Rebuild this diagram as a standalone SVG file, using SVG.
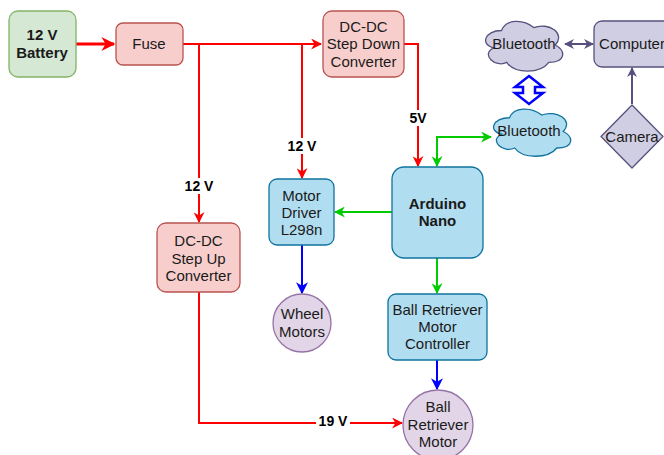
<svg xmlns="http://www.w3.org/2000/svg" width="664" height="455" viewBox="0 0 664 455">
<style>
text{font-family:"Liberation Sans",Arial,sans-serif;font-size:15px;fill:#1a1a1a;text-anchor:middle}
.b{font-weight:bold}
.lbl{font-weight:bold;font-size:14px;fill:#000}
.red{fill:#f8cecc;stroke:#b85450;stroke-width:1.3}
.grn{fill:#d5e8d4;stroke:#82b366;stroke-width:1.3}
.blu{fill:#b1ddf0;stroke:#10739e;stroke-width:1.3}
.pur{fill:#e1d5e7;stroke:#9673a6;stroke-width:1.3}
.gry{fill:#d0cee2;stroke:#56517e;stroke-width:1.3}
.cr{fill:none;stroke:#ff0000;stroke-width:2}
.cg{fill:none;stroke:#00cc00;stroke-width:2}
.cb{fill:none;stroke:#0000ff;stroke-width:2}
.cp{fill:none;stroke:#56517e;stroke-width:2}
</style>
<defs>
<marker id="ar" viewBox="0 0 10 10" refX="9" refY="5" markerWidth="11" markerHeight="11" markerUnits="userSpaceOnUse" orient="auto-start-reverse"><path d="M0,0 L10,5 L0,10 L3,5 Z" fill="#ff0000"/></marker>
<marker id="arb" viewBox="0 0 10 10" refX="9" refY="5" markerWidth="14" markerHeight="14" markerUnits="userSpaceOnUse" orient="auto-start-reverse"><path d="M0,0 L10,5 L0,10 L3,5 Z" fill="#ff0000"/></marker>
<marker id="ag" viewBox="0 0 10 10" refX="9" refY="5" markerWidth="11" markerHeight="11" markerUnits="userSpaceOnUse" orient="auto-start-reverse"><path d="M0,0 L10,5 L0,10 L3,5 Z" fill="#00cc00"/></marker>
<marker id="ab" viewBox="0 0 10 10" refX="9" refY="5" markerWidth="12" markerHeight="12" markerUnits="userSpaceOnUse" orient="auto-start-reverse"><path d="M0,0 L10,5 L0,10 L3,5 Z" fill="#0000ff"/></marker>
<marker id="ap" viewBox="0 0 10 10" refX="9" refY="5" markerWidth="10" markerHeight="10" markerUnits="userSpaceOnUse" orient="auto-start-reverse"><path d="M0,0 L10,5 L0,10 L3,5 Z" fill="#56517e"/></marker>
</defs>
<rect width="664" height="455" fill="#ffffff"/>
<g id="connectors">
<path class="cr" style="stroke-width:3" d="M76,44 L114,44" marker-end="url(#arb)"/>
<path class="cr" d="M183,44 L321,44" marker-end="url(#ar)"/>
<path class="cr" d="M199,44 L199,222" marker-end="url(#ar)"/>
<path class="cr" d="M302,44 L302,178" marker-end="url(#ar)"/>
<path class="cr" d="M404,44 L418,44 L418,166" marker-end="url(#ar)"/>
<path class="cr" d="M199,292 L199,423 L402,423" marker-end="url(#ar)"/>
<path class="cg" d="M437,166 L437,137 L491,137" marker-start="url(#ag)" marker-end="url(#ag)"/>
<path class="cg" d="M392,212 L335,212" marker-end="url(#ag)"/>
<path class="cg" d="M437,258 L437,293" marker-end="url(#ag)"/>
<path class="cb" d="M302,245 L302,293" marker-end="url(#ab)"/>
<path class="cb" d="M437,360 L437,389" marker-end="url(#ab)"/>
<path class="cp" d="M565,44 L593,44" marker-start="url(#ap)" marker-end="url(#ap)"/>
<path class="cp" d="M632,104 L632,68" marker-end="url(#ap)"/>
<polygon points="529,76 543,87 535,87 535,93 543,93 529,104 515,93 523,93 523,87 515,87" fill="#ffffff" stroke="#0000ff" stroke-width="2.5" stroke-linejoin="miter"/>
<rect x="183" y="178" width="32" height="16" fill="#ffffff"/>
<text class="lbl" x="199" y="191">12 V</text>
<rect x="286" y="138" width="32" height="16" fill="#ffffff"/>
<text class="lbl" x="302" y="151">12 V</text>
<rect x="407" y="110" width="22" height="16" fill="#ffffff"/>
<text class="lbl" x="418" y="123">5V</text>
<rect x="316" y="414" width="34" height="16" fill="#ffffff"/>
<text class="lbl" x="333" y="426">19 V</text>
</g>
<g id="battery"><rect class="grn" x="9" y="11" width="67" height="66" rx="9"/><text class="b" x="42" y="40">12 V</text><text class="b" x="42" y="58">Battery</text></g>
<g id="fuse"><rect class="red" x="116" y="23" width="67" height="42" rx="7"/><text x="149" y="49">Fuse</text></g>
<g id="stepdown"><rect class="red" x="323" y="11" width="81" height="66" rx="9"/><text x="363.5" y="32">DC-DC</text><text x="363.5" y="49">Step Down</text><text x="363.5" y="67">Converter</text></g>
<g id="stepup"><rect class="red" x="157" y="223" width="83" height="69" rx="9"/><text x="198.5" y="246">DC-DC</text><text x="198.5" y="264">Step Up</text><text x="198.5" y="281">Converter</text></g>
<g id="motordriver"><rect class="blu" x="269" y="179" width="65" height="66" rx="8"/><text x="301.5" y="201">Motor</text><text x="301.5" y="218">Driver</text><text x="301.5" y="235">L298n</text></g>
<g id="arduino"><rect class="blu" x="392" y="167" width="91" height="91" rx="12"/><text class="b" x="437.5" y="209">Arduino</text><text class="b" x="437.5" y="226">Nano</text></g>
<g id="brmc"><rect class="blu" x="388" y="294" width="99" height="66" rx="8"/><text x="437.5" y="315">Ball Retriever</text><text x="437.5" y="332">Motor</text><text x="437.5" y="349">Controller</text></g>
<g id="wheelmotors"><circle class="pur" cx="302" cy="323" r="29"/><text x="302" y="319">Wheel</text><text x="302" y="337">Motors</text></g>
<g id="ballmotor"><circle class="pur" cx="438" cy="425" r="35"/><text x="438" y="412">Ball</text><text x="438" y="430">Retriever</text><text x="438" y="447">Motor</text></g>
<g id="bluetooth-top"><path class="gry" d="M501.5,30.5 C484.3,30.5 480,45 493.8,47.9 C480,54.3 495.5,68.2 506.7,62.4 C514.4,74 540.2,74 548.8,62.4 C566,62.4 566,50.8 555.25,45 C566,33.4 548.8,21.8 533.75,27.6 C523,18.9 505.8,18.9 501.5,30.5 Z"/><text x="524" y="49">Bluetooth</text></g>
<g id="bluetooth-bottom"><path class="blu" d="M509.5,117.75 C492.3,117.75 488,131.5 501.8,134.25 C488,140.3 503.5,153.5 514.7,148 C522.4,159 548.2,159 556.8,148 C574,148 574,137 563.25,131.5 C574,120.5 556.8,109.5 541.75,115 C531,106.75 513.8,106.75 509.5,117.75 Z"/><text x="529" y="136">Bluetooth</text></g>
<g id="computer"><rect class="gry" x="594" y="21" width="78" height="46" rx="8"/><text x="632" y="49">Computer</text></g>
<g id="camera"><path class="gry" stroke-linejoin="round" d="M632,105 L663,136.5 L632,168 L601,136.5 Z"/><text x="632" y="142">Camera</text></g>
</svg>
